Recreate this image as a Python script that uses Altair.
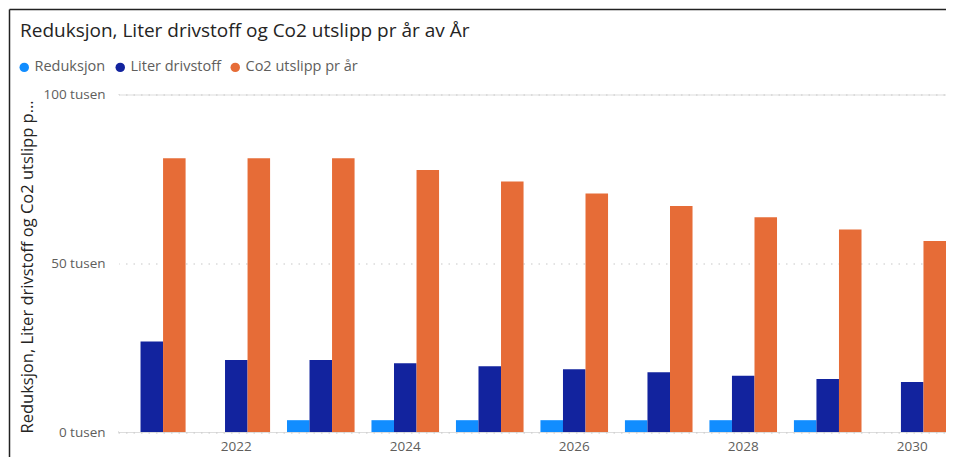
import altair as alt
import pandas as pd

years = [2021, 2022, 2023, 2024, 2025, 2026, 2027, 2028, 2029, 2030]
reduksjon = [0, 0, 3500, 3500, 3500, 3500, 3500, 3500, 3500, 0]
liter = [26800, 21300, 21300, 20400, 19500, 18600, 17700, 16700, 15700, 14800]
co2 = [81100, 81100, 81100, 77600, 74200, 70700, 67000, 63600, 60000, 56600]

series = ["Reduksjon", "Liter drivstoff", "Co2 utslipp pr år"]
colors = ["#118DFF", "#12239E", "#E66C37"]
tick_years = [2022, 2024, 2026, 2028, 2030]
y_ticks = [0, 50000, 100000]

rows = []
for i, yr in enumerate(years):
    for name, vals in zip(series, [reduksjon, liter, co2]):
        rows.append({"År": yr, "Serie": name, "Verdi": vals[i]})
df = pd.DataFrame(rows)

FONT = "Open Sans"
W, H = 828, 337.5
TOP = 86.5  # plot top at page y = 8 + TOP

bars = alt.Chart(df).mark_bar().encode(
    x=alt.X("År:O",
            scale=alt.Scale(paddingInner=0.2, paddingOuter=0),
            axis=alt.Axis(values=tick_years, title=None, labelAngle=0,
                          labelFontSize=13.5, labelColor="#605E5C", labelFont=FONT,
                          labelBaseline="top", labelPadding=7,
                          ticks=False, domain=False, grid=False)),
    xOffset=alt.XOffset("Serie:N", sort=series,
                        scale=alt.Scale(paddingInner=0, paddingOuter=0)),
    y=alt.Y("Verdi:Q",
            scale=alt.Scale(domain=[0, 100000]),
            axis=alt.Axis(values=y_ticks, labelExpr="format(datum.value/1000, 'd') + ' tusen'",
                          labelFontSize=13.5, labelColor="#605E5C", labelFont=FONT,
                          labelPadding=13, ticks=False, domain=False,
                          grid=True, gridDash=[1.5, 6], gridColor="#C8C8C8", gridWidth=1.2,
                          title="Reduksjon, Liter drivstoff og Co2 utslipp pr år",
                          titleFont=FONT, titleFontSize=16.5, titleFontWeight="normal",
                          titleColor="#252423", titleAngle=-90, titleAlign="left",
                          titleBaseline="middle", titleX=-91, titleY=H + 1, titleLimit=339)),
    color=alt.Color("Serie:N", sort=series,
                    scale=alt.Scale(domain=series, range=colors),
                    legend=alt.Legend(title=None, orient="none", direction="horizontal",
                                      legendX=-101, legendY=-34.5,
                                      symbolType="circle", symbolSize=90,
                                      symbolStrokeWidth=0, labelFont=FONT,
                                      labelFontSize=14.5, labelColor="#605E5C",
                                      labelOffset=3, columnPadding=7)),
)

# white cover over a stray vertical edge line at the plot's left edge
cover = alt.Chart(alt.Data(values=[{}])).mark_rule(color="white", strokeWidth=2.5).encode(
    x=alt.value(0), y=alt.value(0.5), y2=alt.value(H - 0.8))

frame_top = alt.Chart(alt.Data(values=[{}])).mark_rule(color="#222222", strokeWidth=1.5).encode(
    x=alt.value(-108.5), x2=alt.value(840), y=alt.value(9.5 - 8 - TOP))
frame_left = alt.Chart(alt.Data(values=[{}])).mark_rule(color="#222222", strokeWidth=1.5).encode(
    x=alt.value(-108.5), y=alt.value(9.5 - 8 - TOP), y2=alt.value(380))

chart = alt.layer(bars, cover, frame_top, frame_left).properties(
    width=W, height=H,
    title=alt.Title("Reduksjon, Liter drivstoff og Co2 utslipp pr år av År",
                    anchor="start", frame="group", font=FONT, fontSize=19,
                    fontWeight="normal", color="#252423", baseline="alphabetic",
                    dx=-98, dy=47, offset=0),
    autosize=alt.AutoSizeParams(type="none"),
    padding={"left": 110, "top": TOP, "right": 0, "bottom": 25},
).configure_view(stroke="transparent", strokeWidth=0).configure_axis(
    domain=False, ticks=False
).configure_axisX(grid=False).configure(background="white")

chart.save("out.html", embed_options={"renderer": "svg", "actions": False})
